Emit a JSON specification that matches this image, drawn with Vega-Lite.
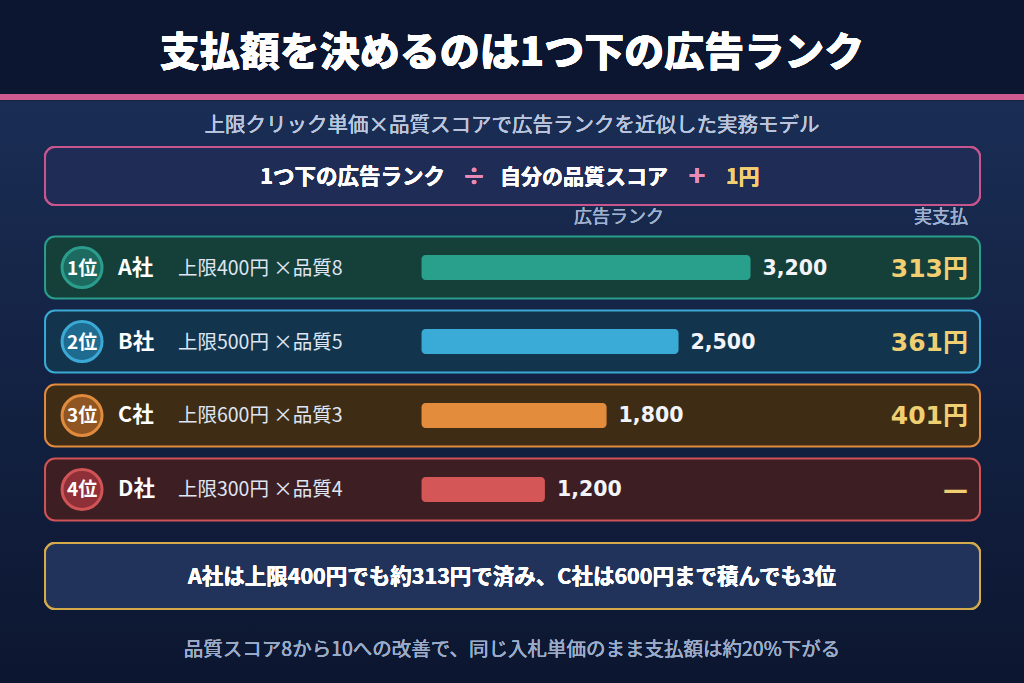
{
  "$schema": "https://vega.github.io/schema/vega-lite/v6.json",
  "width": 1024,
  "height": 683,
  "autosize": {"type": "fit", "contains": "padding"},
  "padding": 0,
  "background": "#0c1630",
  "config": {
    "view": {"stroke": null, "fill": {"gradient": "linear", "x1": 0, "y1": 0, "x2": 0, "y2": 1, "stops": [{"offset": 0, "color": "#0c1630"}, {"offset": 0.14, "color": "#0c1630"}, {"offset": 0.15, "color": "#1a2d54"}, {"offset": 1, "color": "#0c1630"}]}},
    "text": {"font": "Noto Sans CJK JP"}
  },
  "data": {"values": [
    {"順位": "1位", "company": "A社", "spec": "上限400円 ×品質8", "bid": 400, "quality": 8, "rank": 3200, "payment": 313, "payment_label": "313円"},
    {"順位": "2位", "company": "B社", "spec": "上限500円 ×品質5", "bid": 500, "quality": 5, "rank": 2500, "payment": 361, "payment_label": "361円"},
    {"順位": "3位", "company": "C社", "spec": "上限600円 ×品質3", "bid": 600, "quality": 3, "rank": 1800, "payment": 401, "payment_label": "401円"},
    {"順位": "4位", "company": "D社", "spec": "上限300円 ×品質4", "bid": 300, "quality": 4, "rank": 1200, "payment": null, "payment_label": "—"}
  ]},
  "resolve": {"scale": {"fill": "independent", "stroke": "independent"}},
  "layer": [
    {
      "mark": {"type": "rect", "fill": "#cf5a8f", "height": 100, "yOffset": 4.5},
      "encoding": {
        "x": {"datum": -4100, "scale": {"type": "linear", "domain": [-4100, 5860], "nice": false, "zero": false}, "axis": null},
        "x2": {"datum": 5860},
        "y": {"datum": "title", "scale": {"type": "band", "domain": ["title", "sub", "formula", "A社", "B社", "C社", "D社", "note", "footer"], "paddingInner": 0.162, "paddingOuter": 0.196}, "axis": null}
      }
    },
    {
      "mark": {"type": "rect", "fill": "#0c1630", "height": 94, "yOffset": 1.5},
      "encoding": {
        "x": {"datum": -4100, "scale": {"type": "linear", "domain": [-4100, 5860], "nice": false, "zero": false}, "axis": null},
        "x2": {"datum": 5860},
        "y": {"datum": "title", "scale": {"type": "band", "domain": ["title", "sub", "formula", "A社", "B社", "C社", "D社", "note", "footer"], "paddingInner": 0.162, "paddingOuter": 0.196}, "axis": null}
      }
    },
    {
      "mark": {"type": "text", "fontSize": 40, "fontWeight": 900, "color": "#ffffff", "align": "center", "baseline": "middle", "yOffset": 8.5, "text": "支払額を決めるのは1つ下の広告ランク"},
      "encoding": {
        "x": {"datum": 880, "scale": {"type": "linear", "domain": [-4100, 5860], "nice": false, "zero": false}, "axis": null},
        "y": {"datum": "title", "scale": {"type": "band", "domain": ["title", "sub", "formula", "A社", "B社", "C社", "D社", "note", "footer"], "paddingInner": 0.162, "paddingOuter": 0.196}, "axis": null}
      }
    },
    {
      "mark": {"type": "text", "fontSize": 20.5, "color": "#b9c5de", "align": "center", "baseline": "middle", "yOffset": 6, "text": "上限クリック単価×品質スコアで広告ランクを近似した実務モデル"},
      "encoding": {
        "x": {"datum": 880, "scale": {"type": "linear", "domain": [-4100, 5860], "nice": false, "zero": false}, "axis": null},
        "y": {"datum": "sub", "scale": {"type": "band", "domain": ["title", "sub", "formula", "A社", "B社", "C社", "D社", "note", "footer"], "paddingInner": 0.162, "paddingOuter": 0.196}, "axis": null}
      }
    },
    {
      "mark": {"type": "rect", "fill": "#1f2d56", "stroke": "#c9558e", "strokeWidth": 2, "cornerRadius": 10, "height": 58, "yOffset": -17.5},
      "encoding": {
        "x": {"datum": -3662, "scale": {"type": "linear", "domain": [-4100, 5860], "nice": false, "zero": false}, "axis": null},
        "x2": {"datum": 5432},
        "y": {"datum": "formula", "scale": {"type": "band", "domain": ["title", "sub", "formula", "A社", "B社", "C社", "D社", "note", "footer"], "paddingInner": 0.162, "paddingOuter": 0.196}, "axis": null}
      }
    },
    {
      "mark": {"type": "text", "fontSize": 21.5, "fontWeight": "bold", "color": "#ffffff", "align": "right", "baseline": "middle", "yOffset": -16, "text": "1つ下の広告ランク"},
      "encoding": {
        "x": {"datum": 228, "scale": {"type": "linear", "domain": [-4100, 5860], "nice": false, "zero": false}, "axis": null},
        "y": {"datum": "formula", "scale": {"type": "band", "domain": ["title", "sub", "formula", "A社", "B社", "C社", "D社", "note", "footer"], "paddingInner": 0.162, "paddingOuter": 0.196}, "axis": null}
      }
    },
    {
      "mark": {"type": "text", "fontSize": 24, "fontWeight": "bold", "color": "#e88bb8", "align": "center", "baseline": "middle", "yOffset": -16, "text": "÷"},
      "encoding": {
        "x": {"datum": 510, "scale": {"type": "linear", "domain": [-4100, 5860], "nice": false, "zero": false}, "axis": null},
        "y": {"datum": "formula", "scale": {"type": "band", "domain": ["title", "sub", "formula", "A社", "B社", "C社", "D社", "note", "footer"], "paddingInner": 0.162, "paddingOuter": 0.196}, "axis": null}
      }
    },
    {
      "mark": {"type": "text", "fontSize": 21, "fontWeight": "bold", "color": "#ffffff", "align": "left", "baseline": "middle", "yOffset": -16, "text": "自分の品質スコア"},
      "encoding": {
        "x": {"datum": 763, "scale": {"type": "linear", "domain": [-4100, 5860], "nice": false, "zero": false}, "axis": null},
        "y": {"datum": "formula", "scale": {"type": "band", "domain": ["title", "sub", "formula", "A社", "B社", "C社", "D社", "note", "footer"], "paddingInner": 0.162, "paddingOuter": 0.196}, "axis": null}
      }
    },
    {
      "mark": {"type": "text", "fontSize": 28, "fontWeight": "bold", "color": "#e88bb8", "align": "center", "baseline": "middle", "yOffset": -16, "text": "+"},
      "encoding": {
        "x": {"datum": 2679, "scale": {"type": "linear", "domain": [-4100, 5860], "nice": false, "zero": false}, "axis": null},
        "y": {"datum": "formula", "scale": {"type": "band", "domain": ["title", "sub", "formula", "A社", "B社", "C社", "D社", "note", "footer"], "paddingInner": 0.162, "paddingOuter": 0.196}, "axis": null}
      }
    },
    {
      "mark": {"type": "text", "fontSize": 21, "fontWeight": "bold", "color": "#f0cf72", "align": "left", "baseline": "middle", "yOffset": -16, "text": "1円"},
      "encoding": {
        "x": {"datum": 2962, "scale": {"type": "linear", "domain": [-4100, 5860], "nice": false, "zero": false}, "axis": null},
        "y": {"datum": "formula", "scale": {"type": "band", "domain": ["title", "sub", "formula", "A社", "B社", "C社", "D社", "note", "footer"], "paddingInner": 0.162, "paddingOuter": 0.196}, "axis": null}
      }
    },
    {
      "mark": {"type": "text", "fontSize": 18, "color": "#9db0cf", "align": "center", "baseline": "middle", "yOffset": 24, "text": "広告ランク"},
      "encoding": {
        "x": {"datum": 1921, "scale": {"type": "linear", "domain": [-4100, 5860], "nice": false, "zero": false}, "axis": null},
        "y": {"datum": "formula", "scale": {"type": "band", "domain": ["title", "sub", "formula", "A社", "B社", "C社", "D社", "note", "footer"], "paddingInner": 0.162, "paddingOuter": 0.196}, "axis": null}
      }
    },
    {
      "mark": {"type": "text", "fontSize": 18, "color": "#9db0cf", "align": "right", "baseline": "middle", "yOffset": 24, "text": "実支払"},
      "encoding": {
        "x": {"datum": 5315, "scale": {"type": "linear", "domain": [-4100, 5860], "nice": false, "zero": false}, "axis": null},
        "y": {"datum": "formula", "scale": {"type": "band", "domain": ["title", "sub", "formula", "A社", "B社", "C社", "D社", "note", "footer"], "paddingInner": 0.162, "paddingOuter": 0.196}, "axis": null}
      }
    },
    {
      "mark": {"type": "rect", "strokeWidth": 2, "cornerRadius": 10},
      "encoding": {
        "x": {"datum": -3662, "scale": {"type": "linear", "domain": [-4100, 5860], "nice": false, "zero": false}, "axis": null},
        "x2": {"datum": 5432},
        "y": {"field": "company", "type": "nominal", "scale": {"type": "band", "domain": ["title", "sub", "formula", "A社", "B社", "C社", "D社", "note", "footer"], "paddingInner": 0.162, "paddingOuter": 0.196}, "axis": null},
        "fill": {"field": "company", "type": "nominal", "scale": {"domain": ["A社", "B社", "C社", "D社"], "range": ["#153f39", "#12354d", "#3e2c15", "#3d1e23"]}, "legend": null},
        "stroke": {"field": "company", "type": "nominal", "scale": {"domain": ["A社", "B社", "C社", "D社"], "range": ["#2a9d8c", "#3ba9d6", "#e08b3d", "#d05456"]}, "legend": null}
      }
    },
    {
      "mark": {"type": "point", "shape": "circle", "filled": true, "size": 1600, "strokeWidth": 3, "opacity": 1},
      "encoding": {
        "x": {"datum": -3302, "scale": {"type": "linear", "domain": [-4100, 5860], "nice": false, "zero": false}, "axis": null},
        "y": {"field": "company", "type": "nominal", "scale": {"type": "band", "domain": ["title", "sub", "formula", "A社", "B社", "C社", "D社", "note", "footer"], "paddingInner": 0.162, "paddingOuter": 0.196}, "axis": null},
        "fill": {"field": "company", "type": "nominal", "scale": {"domain": ["A社", "B社", "C社", "D社"], "range": ["#1d6b60", "#1f6b90", "#8f5522", "#8f2f38"]}, "legend": null},
        "stroke": {"field": "company", "type": "nominal", "scale": {"domain": ["A社", "B社", "C社", "D社"], "range": ["#2a9d8c", "#3ba9d6", "#e08b3d", "#d05456"]}, "legend": null}
      }
    },
    {
      "mark": {"type": "text", "fontSize": 19, "fontWeight": "bold", "color": "#ffffff", "align": "center", "baseline": "middle", "dy": 1},
      "encoding": {
        "x": {"datum": -3302, "scale": {"type": "linear", "domain": [-4100, 5860], "nice": false, "zero": false}, "axis": null},
        "y": {"field": "company", "type": "nominal", "scale": {"type": "band", "domain": ["title", "sub", "formula", "A社", "B社", "C社", "D社", "note", "footer"], "paddingInner": 0.162, "paddingOuter": 0.196}, "axis": null},
        "text": {"field": "順位", "type": "nominal"}
      }
    },
    {
      "mark": {"type": "text", "fontSize": 21.5, "fontWeight": "bold", "color": "#ffffff", "align": "left", "baseline": "middle", "dy": 1},
      "encoding": {
        "x": {"datum": -2952, "scale": {"type": "linear", "domain": [-4100, 5860], "nice": false, "zero": false}, "axis": null},
        "y": {"field": "company", "type": "nominal", "scale": {"type": "band", "domain": ["title", "sub", "formula", "A社", "B社", "C社", "D社", "note", "footer"], "paddingInner": 0.162, "paddingOuter": 0.196}, "axis": null},
        "text": {"field": "company", "type": "nominal"}
      }
    },
    {
      "mark": {"type": "text", "fontSize": 19.5, "color": "#dfe5f2", "align": "left", "baseline": "middle", "dy": 1},
      "encoding": {
        "x": {"datum": -2369, "scale": {"type": "linear", "domain": [-4100, 5860], "nice": false, "zero": false}, "axis": null},
        "y": {"field": "company", "type": "nominal", "scale": {"type": "band", "domain": ["title", "sub", "formula", "A社", "B社", "C社", "D社", "note", "footer"], "paddingInner": 0.162, "paddingOuter": 0.196}, "axis": null},
        "text": {"field": "spec", "type": "nominal"}
      }
    },
    {
      "mark": {"type": "bar", "height": 25, "cornerRadius": 4},
      "encoding": {
        "x": {"field": "rank", "type": "quantitative", "scale": {"type": "linear", "domain": [-4100, 5860], "nice": false, "zero": false}, "axis": null},
        "x2": {"datum": 0},
        "y": {"field": "company", "type": "nominal", "scale": {"type": "band", "domain": ["title", "sub", "formula", "A社", "B社", "C社", "D社", "note", "footer"], "paddingInner": 0.162, "paddingOuter": 0.196}, "axis": null},
        "fill": {"field": "company", "type": "nominal", "scale": {"domain": ["A社", "B社", "C社", "D社"], "range": ["#28a08c", "#3aaad6", "#e28c3c", "#d45656"]}, "legend": null}
      }
    },
    {
      "mark": {"type": "text", "fontSize": 20.5, "fontWeight": "bold", "color": "#f2f4fa", "align": "left", "baseline": "middle", "dx": 12, "dy": 1, "font": "DejaVu Sans"},
      "encoding": {
        "x": {"field": "rank", "type": "quantitative", "scale": {"type": "linear", "domain": [-4100, 5860], "nice": false, "zero": false}, "axis": null},
        "y": {"field": "company", "type": "nominal", "scale": {"type": "band", "domain": ["title", "sub", "formula", "A社", "B社", "C社", "D社", "note", "footer"], "paddingInner": 0.162, "paddingOuter": 0.196}, "axis": null},
        "text": {"field": "rank", "type": "quantitative", "format": ","}
      }
    },
    {
      "mark": {"type": "text", "fontSize": 25, "fontWeight": "bold", "color": "#f0cf72", "align": "right", "baseline": "middle", "dy": 1, "font": "DejaVu Sans, Noto Sans CJK JP"},
      "encoding": {
        "x": {"datum": 5315, "scale": {"type": "linear", "domain": [-4100, 5860], "nice": false, "zero": false}, "axis": null},
        "y": {"field": "company", "type": "nominal", "scale": {"type": "band", "domain": ["title", "sub", "formula", "A社", "B社", "C社", "D社", "note", "footer"], "paddingInner": 0.162, "paddingOuter": 0.196}, "axis": null},
        "text": {"field": "payment_label", "type": "nominal"}
      }
    },
    {
      "mark": {"type": "rect", "fill": "#22335b", "stroke": "#d4aa4a", "strokeWidth": 2, "cornerRadius": 10, "height": 66, "yOffset": 12.5},
      "encoding": {
        "x": {"datum": -3662, "scale": {"type": "linear", "domain": [-4100, 5860], "nice": false, "zero": false}, "axis": null},
        "x2": {"datum": 5432},
        "y": {"datum": "note", "scale": {"type": "band", "domain": ["title", "sub", "formula", "A社", "B社", "C社", "D社", "note", "footer"], "paddingInner": 0.162, "paddingOuter": 0.196}, "axis": null}
      }
    },
    {
      "mark": {"type": "text", "fontSize": 21.5, "fontWeight": "bold", "color": "#ffffff", "align": "center", "baseline": "middle", "yOffset": 15, "text": "A社は上限400円でも約313円で済み、C社は600円まで積んでも3位"},
      "encoding": {
        "x": {"datum": 880, "scale": {"type": "linear", "domain": [-4100, 5860], "nice": false, "zero": false}, "axis": null},
        "y": {"datum": "note", "scale": {"type": "band", "domain": ["title", "sub", "formula", "A社", "B社", "C社", "D社", "note", "footer"], "paddingInner": 0.162, "paddingOuter": 0.196}, "axis": null}
      }
    },
    {
      "mark": {"type": "text", "fontSize": 19.5, "color": "#9aabc8", "align": "center", "baseline": "middle", "yOffset": 13, "text": "品質スコア8から10への改善で、同じ入札単価のまま支払額は約20%下がる"},
      "encoding": {
        "x": {"datum": 880, "scale": {"type": "linear", "domain": [-4100, 5860], "nice": false, "zero": false}, "axis": null},
        "y": {"datum": "footer", "scale": {"type": "band", "domain": ["title", "sub", "formula", "A社", "B社", "C社", "D社", "note", "footer"], "paddingInner": 0.162, "paddingOuter": 0.196}, "axis": null}
      }
    }
  ]
}
